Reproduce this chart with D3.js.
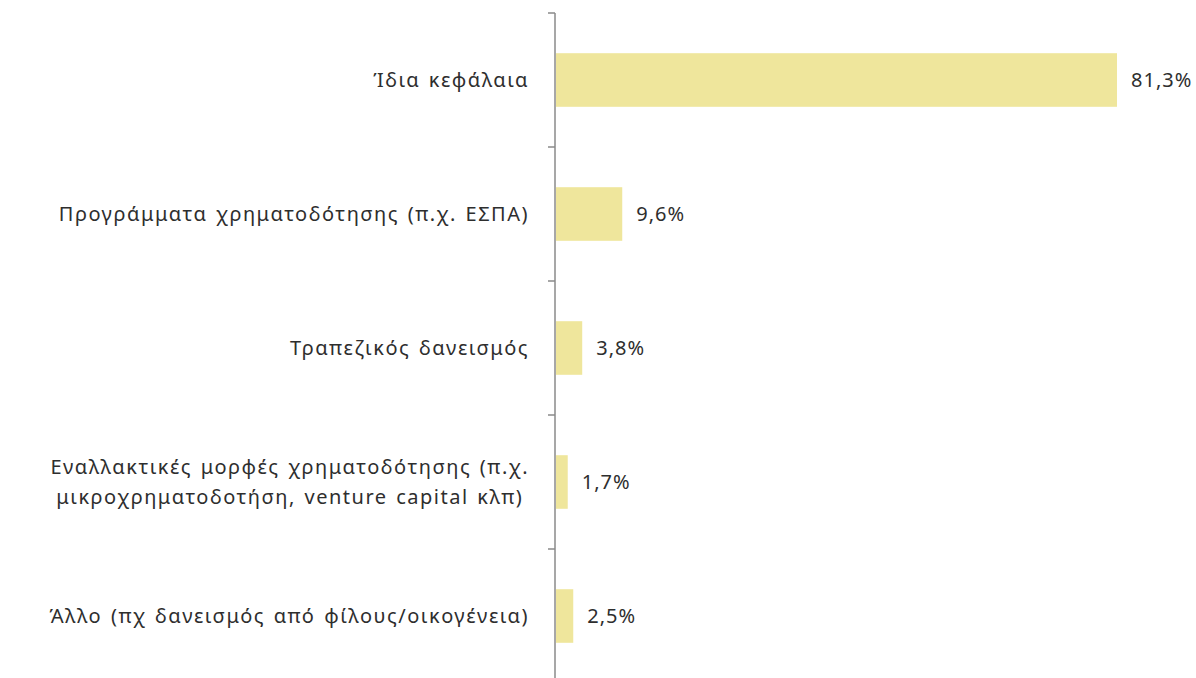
<!DOCTYPE html>
<html>
<head>
<meta charset="utf-8">
<script src="https://cdn.jsdelivr.net/npm/d3@7"></script>
<style>
  body { margin: 0; background: #fff; }
  text { font-family: "Noto Sans", sans-serif; fill: #2e2e2e; }
</style>
</head>
<body>
<div id="chart"></div>
<script>
//--------------------------------------------------------------------------------
var categories = [
   ["Ίδια κεφάλαια"],
   ["Προγράμματα χρηματοδότησης (π.χ. ΕΣΠΑ)"],
   ["Τραπεζικός δανεισμός"],
   ["Εναλλακτικές μορφές χρηματοδότησης (π.χ.", "μικροχρηματοδοτήση, venture capital κλπ)"],
   ["Άλλο (πχ δανεισμός από φίλους/οικογένεια)"]
];
var values = [81.3, 9.6, 3.8, 1.7, 2.5];
var valueLabels = ["81,3%", "9,6%", "3,8%", "1,7%", "2,5%"];
//--------------------------------------------------------------------------------

var width = 1196, height = 678;
var axisX = 555, plotTop = 13, plotBottom = 683;

var svg = d3.select("#chart").append("svg")
    .attr("width", width)
    .attr("height", height);

var yScale = d3.scaleBand()
    .domain(d3.range(values.length))
    .range([plotTop, plotBottom])
    .paddingInner(0.6)
    .paddingOuter(0.3);

var xScale = d3.scaleLinear()
    .domain([0, 81.3])
    .range([axisX + 1, 1117]);

// bars
svg.selectAll("rect.bar")
   .data(values)
   .enter()
   .append("rect")
   .attr("class", "bar")
   .attr("x", xScale(0))
   .attr("y", function(d, i){ return yScale(i); })
   .attr("width", function(d){ return xScale(d) - xScale(0); })
   .attr("height", yScale.bandwidth())
   .style("fill", "#efe69c");

// value labels
svg.selectAll("text.val")
   .data(values)
   .enter()
   .append("text")
   .attr("class", "val")
   .attr("x", function(d){ return xScale(d) + 14; })
   .attr("y", function(d, i){ return yScale(i) + yScale.bandwidth() / 2; })
   .attr("dy", "0.35em")
   .style("font-size", "20px")
   .style("letter-spacing", "1px")
   .text(function(d, i){ return valueLabels[i]; });

// axis line and ticks at band boundaries
var step = yScale.step();
var tickYs = d3.range(values.length).map(function(i){ return plotTop + i * step; });

svg.append("line")
   .attr("x1", axisX).attr("x2", axisX)
   .attr("y1", plotTop).attr("y2", height)
   .style("stroke", "#8a8a8a")
   .style("stroke-width", 1.5);

svg.selectAll("line.tick")
   .data(tickYs)
   .enter()
   .append("line")
   .attr("class", "tick")
   .attr("x1", axisX - 7).attr("x2", axisX)
   .attr("y1", function(d){ return d; })
   .attr("y2", function(d){ return d; })
   .style("stroke", "#8a8a8a")
   .style("stroke-width", 1.5);

// category labels (multi-line labels are centred within a right-aligned block)
var labelRight = 529;
var labels = svg.selectAll("g.cat")
   .data(categories)
   .enter()
   .append("g")
   .attr("class", "cat");

labels.each(function(lines, i){
   var g = d3.select(this);
   var cy = yScale(i) + yScale.bandwidth() / 2;
   var lineH = 30;
   var texts = lines.map(function(s, j){
      return g.append("text")
         .attr("y", cy + (j - (lines.length - 1) / 2) * lineH)
         .attr("dy", "0.35em")
         .style("font-size", "20px")
         .style("letter-spacing", "1.5px")
         .style("word-spacing", "2px")
         .text(s);
   });
   var maxW = d3.max(texts, function(t){ return t.node().getComputedTextLength(); });
   texts.forEach(function(t){
      t.attr("text-anchor", "middle").attr("x", labelRight - maxW / 2);
   });
});
</script>
</body>
</html>
